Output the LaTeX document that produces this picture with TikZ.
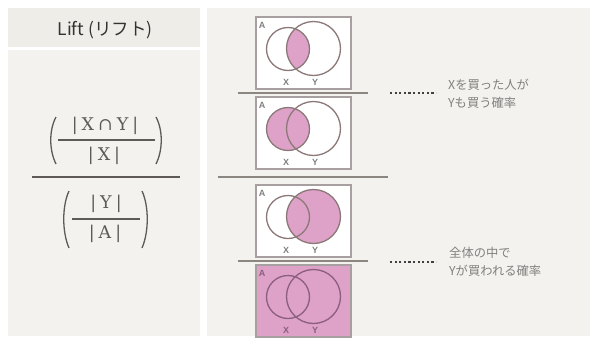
\documentclass[tikz,border=0pt]{standalone}
\usepackage{fontspec}
\setmainfont{DejaVu Serif}
\newfontfamily\jpfont{Noto Sans CJK JP}
\newfontfamily\lsans{Liberation Sans}
\definecolor{panelbg}{HTML}{F3F2EE}
\definecolor{headbg}{HTML}{EEEDE8}
\definecolor{boxline}{HTML}{A8A0A0}
\definecolor{circline}{HTML}{8C7878}
\definecolor{circdark}{HTML}{8A5E7C}
\definecolor{vpink}{HTML}{DEA2C8}
\definecolor{fracline}{HTML}{8C8680}
\definecolor{formtext}{HTML}{5E5A58}
\definecolor{jptext}{HTML}{808080}
\newcommand\fsp{\hspace{4pt}}
\tikzset{
  vbox/.style={draw=boxline, line width=1.4pt, minimum width=95pt, minimum height=72pt, inner sep=0pt, outer sep=0pt},
  circ/.style={draw=circline, line width=1.3pt},
  vlab/.style={font=\lsans\bfseries\fontsize{9}{10}\selectfont, text=jptext, inner sep=0pt},
  fracrule/.style={draw=fracline, line width=1.6pt},
  dotline/.style={draw=black!75, line width=2.2pt, dash pattern=on 2.2pt off 2.4pt},
  note/.style={font=\jpfont\fontsize{12.3}{18}\selectfont, text=jptext, align=left, anchor=west, inner sep=0pt},
  ftext/.style={font=\fontsize{17.5}{18}\selectfont, text=formtext, inner sep=0pt},
  paren/.style={draw=formtext, line width=1.3pt},
}
\begin{document}
\begin{tikzpicture}[x=1pt,y=-1pt]
\useasboundingbox (0,0) rectangle (590,338);
\fill[white] (0,0) rectangle (590,338);
% panels
\fill[headbg] (8,8) rectangle (200,47);
\fill[panelbg] (8,50) rectangle (200,336);
\fill[panelbg] (207,8) rectangle (590,336);
\node[font=\jpfont\fontsize{17.5}{18}\selectfont, text=black!80] (head) at (105,30) {Lift (リフト)};
% formula
\node[ftext] (xny) at (105,126) {|\fsp X\fsp∩\fsp Y\fsp|};
\node[ftext] (xx) at (104,156) {|\fsp X\fsp|};
\node[ftext] (yy) at (106,204) {|\fsp Y\fsp|};
\node[ftext] (aa) at (105,234) {|\fsp A\fsp|};
\coordinate (f1l) at (58,140); \coordinate (f1r) at (155,140);
\coordinate (f2l) at (72,219); \coordinate (f2r) at (140,219);
\coordinate (fml) at (32,177); \coordinate (fmr) at (180,177);
\draw[paren] (f1l) -- (f1r);
\draw[paren] (f2l) -- (f2r);
\draw[paren, line width=1.5pt] (fml) -- (fmr);
\draw[paren] (56,117) .. controls (49,130) and (49,150) .. (56,164);
\draw[paren] (156,117) .. controls (163,130) and (163,150) .. (156,164);
\draw[paren] (69,191) .. controls (62,206) and (62,232) .. (69,248);
\draw[paren] (142,191) .. controls (149,206) and (149,232) .. (142,248);
% Venn box 1: intersection
\begin{scope}[shift={(256,17)}]
  \node[vbox, fill=white] (b1) at (47.5,36) {};
  \begin{scope}
    \clip (32,32) circle (21.5pt);
    \fill[vpink] (57.5,31.5) circle (27pt);
  \end{scope}
  \draw[circ] (32,32) circle (21.5pt);
  \draw[circ] (57.5,31.5) circle (27pt);
  \node[vlab] (b1a) at (6,8) {A};
  \node[vlab] (b1x) at (30,65) {X};
  \node[vlab] (b1y) at (59,65) {Y};
\end{scope}
% Venn box 2: X
\begin{scope}[shift={(256,97)}]
  \node[vbox, fill=white] (b2) at (47.5,36) {};
  \fill[vpink] (32,32) circle (21.5pt);
  \draw[circ] (32,32) circle (21.5pt);
  \draw[circ] (57.5,31.5) circle (27pt);
  \node[vlab] (b2a) at (6,8) {A};
  \node[vlab] (b2x) at (30,65) {X};
  \node[vlab] (b2y) at (59,65) {Y};
\end{scope}
% Venn box 3: Y
\begin{scope}[shift={(256,185)}]
  \node[vbox, fill=white] (b3) at (47.5,36) {};
  \fill[vpink] (57.5,31.5) circle (27pt);
  \draw[circ] (32,32) circle (21.5pt);
  \draw[circ] (57.5,31.5) circle (27pt);
  \node[vlab] (b3a) at (6,8) {A};
  \node[vlab] (b3x) at (30,65) {X};
  \node[vlab] (b3y) at (59,65) {Y};
\end{scope}
% Venn box 4: A
\begin{scope}[shift={(256,265)}]
  \node[vbox, fill=vpink] (b4) at (47.5,36) {};
  \draw[circ, draw=circdark] (32,32) circle (21.5pt);
  \draw[circ, draw=circdark] (57.5,31.5) circle (27pt);
  \node[vlab, text=circdark] (b4a) at (6,8) {A};
  \node[vlab, text=circdark] (b4x) at (30,65) {X};
  \node[vlab, text=circdark] (b4y) at (59,65) {Y};
\end{scope}
% fraction rules
\coordinate (r1l) at (238,93); \coordinate (r1r) at (368,93);
\coordinate (rml) at (218,177); \coordinate (rmr) at (388,177);
\coordinate (r2l) at (238,261); \coordinate (r2r) at (368,261);
\draw[fracrule] (r1l) -- (r1r);
\draw[fracrule] (rml) -- (rmr);
\draw[fracrule] (r2l) -- (r2r);
% notes
\node[note] (n1) at (448,94) {Xを買った人が\\Yも買う確率};
\node[note] (n2) at (449,262) {全体の中で\\Yが買われる確率};
\coordinate (d1) at (390,93);
\coordinate (d2) at (390,262);
\draw[dotline] (d1) -- ([xshift=-12pt]n1.west |- d1);
\draw[dotline] (d2) -- ([xshift=-13pt]n2.west |- d2);
\end{tikzpicture}
\end{document}
